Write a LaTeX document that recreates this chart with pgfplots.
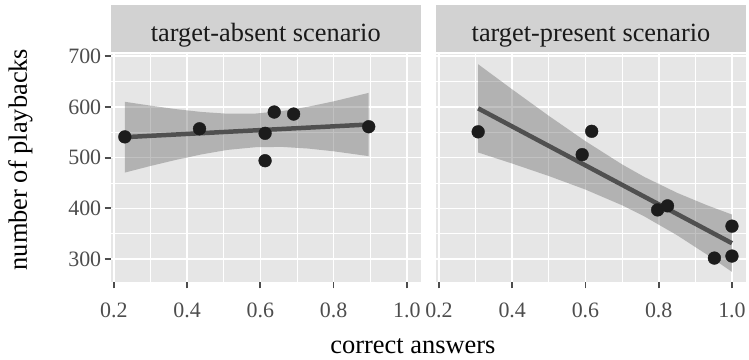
\documentclass[border=0pt]{standalone}
\usepackage{fontspec}
\setmainfont{Liberation Serif}
\usepackage{pgfplots}
\pgfplotsset{compat=1.18}
\usepackage{pgfplotstable}
\usepgfplotslibrary{fillbetween}

\definecolor{panelbg}{HTML}{E6E6E6}
\definecolor{stripbg}{HTML}{D2D2D2}
\definecolor{ribbon}{HTML}{666666}
\definecolor{fitline}{HTML}{505050}
\definecolor{ptcol}{HTML}{1C1C1C}
\definecolor{ticktext}{HTML}{4D4D4D}
\definecolor{striptext}{HTML}{1A1A1A}

% target-absent: points
\pgfplotstableread{
x y
0.230 541
0.434 557
0.613 548
0.613 494
0.638 590
0.691 586
0.896 561
}\absentpts
% target-absent: fit with 95% band
\pgfplotstableread{
x fit lo hi
0.230 540.4 470.6 610.2
0.300 543.1 483.6 602.6
0.370 545.7 495.7 595.7
0.440 548.3 506.5 590.1
0.510 551.0 515.3 586.7
0.588 553.9 520.7 587.1
0.660 556.6 521.2 592.0
0.730 559.2 518.0 600.4
0.800 561.8 512.6 611.0
0.896 565.4 503.0 627.8
}\absentfit
% target-present: points
\pgfplotstableread{
x y
0.307 551
0.591 506
0.617 552
0.797 397
0.824 405
0.952 302
1.000 365
1.000 306
}\presentpts
% target-present: fit with 95% band
\pgfplotstableread{
x fit lo hi
0.307 597.2 510.2 684.2
0.400 561.5 488.4 634.6
0.500 523.1 463.8 582.4
0.600 484.8 437.1 532.5
0.700 446.4 406.1 486.7
0.761 423.0 384.1 461.9
0.850 388.9 347.1 430.7
0.930 358.2 309.7 406.7
1.000 331.3 274.8 387.8
}\presentfit

\pgfplotsset{
  panel/.style={
    scale only axis, width=311pt, height=229pt,
    anchor=south west,
    xmin=0.1915, xmax=1.0385, ymin=254.3, ymax=704.7,
    axis background/.style={fill=panelbg},
    axis line style={draw=none},
    xtick={0.2,0.4,0.6,0.8,1.0}, minor xtick={0.3,0.5,0.7,0.9},
    xticklabels={0.2,0.4,0.6,0.8,1.0},
    ytick={300,400,500,600,700}, minor ytick={350,450,550,650},
    grid=both,
    major grid style={white, line width=1.6pt},
    minor grid style={white, line width=0.8pt},
    tick align=outside, major tick length=6pt, minor tick length=0pt,
    xtick pos=bottom, ytick pos=left,
    tick style={color=ticktext, line width=1.8pt},
    minor tick style={draw=none},
    xticklabel style={font=\fontsize{22}{22}\selectfont, text=ticktext, yshift=-11pt},
    yticklabel style={font=\fontsize{22}{22}\selectfont, text=ticktext},
  },
}

\begin{document}
\begin{tikzpicture}
\path (0pt,0pt) rectangle (749pt,360pt);
% strips
\fill[stripbg] (111pt,307.5pt) rectangle (422pt,355pt);
\fill[stripbg] (437pt,307.5pt) rectangle (748pt,355pt);
\node[anchor=base, text=striptext, font=\fontsize{26.4}{26.4}\selectfont] at (266.5pt,318pt) {target-absent scenario};
\node[anchor=base, text=striptext, font=\fontsize{26.4}{26.4}\selectfont] at (592.5pt,318pt) {target-present scenario};

\begin{axis}[panel, at={(111pt,77pt)}, yticklabels={300,400,500,600,700}]
  \addplot[only marks, mark=*, mark size=6.4pt, fill=ptcol, draw=ptcol] table[x=x,y=y] {\absentpts};
  \addplot[name path=aup, draw=none, forget plot] table[x=x,y=hi] {\absentfit};
  \addplot[name path=alo, draw=none, forget plot] table[x=x,y=lo] {\absentfit};
  \addplot[fill=ribbon, fill opacity=0.4, draw=none] fill between[of=aup and alo];
  \addplot[fitline, line width=4.5pt] table[x=x,y=fit] {\absentfit};
\end{axis}

\begin{axis}[panel, at={(437pt,77pt)}, yticklabels={}, y tick style={draw=none}]
  \addplot[only marks, mark=*, mark size=6.4pt, fill=ptcol, draw=ptcol] table[x=x,y=y] {\presentpts};
  \addplot[name path=pup, draw=none, forget plot] table[x=x,y=hi] {\presentfit};
  \addplot[name path=plo, draw=none, forget plot] table[x=x,y=lo] {\presentfit};
  \addplot[fill=ribbon, fill opacity=0.4, draw=none] fill between[of=pup and plo];
  \addplot[fitline, line width=4.5pt] table[x=x,y=fit] {\presentfit};
\end{axis}

% axis titles
\node[anchor=base, font=\fontsize{26.5}{26.5}\selectfont] at (414pt,6pt) {correct answers};
\node[anchor=base, rotate=90, font=\fontsize{26.5}{26.5}\selectfont] at (27pt,200pt) {number of playbacks};
\end{tikzpicture}
\end{document}
